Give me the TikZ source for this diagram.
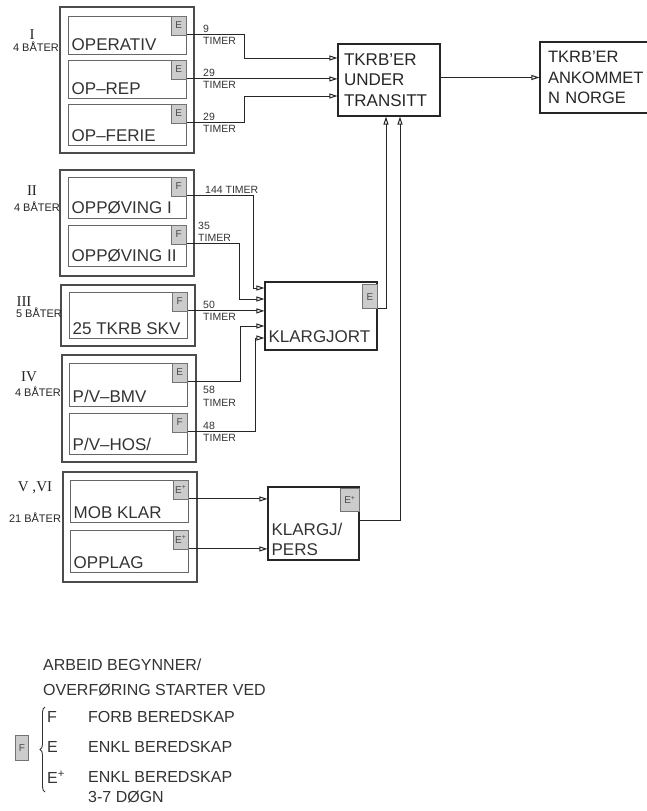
\documentclass[tikz,border=0pt]{standalone}
\usepackage{fontspec}
\setmainfont{Liberation Sans}
\newfontfamily\romfont{Liberation Serif}
\usetikzlibrary{arrows.meta, positioning, decorations.pathreplacing}

\begin{document}
\begin{tikzpicture}[x=1pt, y=-1pt,
        grp/.style={rectangle, draw=black!70, line width=1.6pt, minimum width=134pt,
                    minimum height=#1, inner sep=0pt},
        sub/.style={rectangle, draw=black!60, line width=1pt, minimum width=118pt,
                    minimum height=#1, inner sep=0pt},
        txt/.style={anchor=south west, inner sep=0pt, xshift=4pt, yshift=#1, align=left,
                    font=\fontsize{17}{20}\selectfont, text=black!80},
        txt/.default=4pt,
        tg/.style={rectangle, draw=black!55, fill=black!20, minimum width=15pt,
                   minimum height=19pt, inner sep=0pt, anchor=north east,
                   font=\fontsize{10}{10}\selectfont, text=black!70},
        box/.style={rectangle, draw=black!85, line width=1.2pt, inner sep=0pt,
                    font=\fontsize{17}{20.5}\selectfont, text=black!85},
        tim/.style={inner sep=0pt, align=left, font=\fontsize{10.5}{12.5}\selectfont, text=black!80},
        nr/.style={inner sep=0pt, font=\fontsize{11}{12}\selectfont, text=black!85},
        rom/.style={inner sep=0pt, font=\romfont\fontsize{15}{15}\selectfont, text=black!85},
        leg/.style={anchor=west, inner sep=0pt, font=\fontsize{16}{16}\selectfont, text=black!80},
        arr/.style={-{Triangle[open, length=8pt, width=5pt]}, line width=1pt, black!85},
        node distance=2pt]
      \useasboundingbox (0,0) rectangle (646,811);

      \node[grp=146pt] (g1) at (127,80) {};
      \node[sub=38pt, label={[txt]south west:OPERATIV}] (op) at (127,35) {};
      \node[tg] (top) at (op.north east) {E};
      \node[sub=38pt, label={[txt]south west:OP--REP}] (oprep) at (127,79) {};
      \node[tg] (toprep) at (oprep.north east) {E};
      \node[sub=41pt, label={[txt]south west:OP--FERIE}] (opfer) at (127,124.5) {};
      \node[tg] (topfer) at (opfer.north east) {E};
      \node[nr] (b1) at (36,47) {4 BÅTER};
      \node[rom, above=of b1, xshift=-4pt] (r1) {I};

      \node[grp=106pt] (g2) at (127,223) {};
      \node[sub=41pt, label={[txt]south west:OPPØVING I}] (ov1) at (127,197.5) {};
      \node[tg] (tov1) at (ov1.north east) {F};
      \node[sub=41pt, label={[txt]south west:OPPØVING II}] (ov2) at (127,245.5) {};
      \node[tg] (tov2) at (ov2.north east) {F};
      \node[nr] (b2) at (37,207) {4 BÅTER};
      \node[rom, above=6pt of b2, xshift=-5pt] (r2) {II};

      \node[grp=61pt] (g3) at (128,315.5) {};
      \node[sub=46pt, label={[txt]south west:25 TKRB SKV}] (skv) at (128,315) {};
      \node[tg] (tskv) at (skv.north east) {F};
      \node[nr] (b3) at (39,313) {5 BÅTER};
      \node[rom, above=1pt of b3, xshift=-15pt] (r3) {III};

      \node[grp=107pt] (g4) at (129,408.5) {};
      \node[sub=43pt, label={[txt]south west:P/V--BMV}] (bmv) at (128,384.5) {};
      \node[tg] (tbmv) at (bmv.north east) {E};
      \node[sub=41pt, label={[txt]south west:P/V--HOS/}] (hos) at (128,433.5) {};
      \node[tg] (thos) at (hos.north east) {F};
      \node[nr] (b4) at (38,392) {4 BÅTER};
      \node[rom, above=5pt of b4, xshift=-9pt] (r4) {IV};

      \node[grp=110pt] (g5) at (130,527) {};
      \node[sub=42pt, label={[txt]south west:MOB KLAR}] (mob) at (129,501) {};
      \node[tg] (tmob) at (mob.north east) {E\textsuperscript{+}};
      \node[sub=42pt, label={[txt]south west:OPPLAG}] (opl) at (129,551) {};
      \node[tg] (topl) at (opl.north east) {E\textsuperscript{+}};
      \node[nr] (b5) at (35,518) {21 BÅTER};
      \node[rom, above=19pt of b5] (r5) {V ,VI};

      \node[box, minimum width=102pt, minimum height=72pt, text width=90pt, align=left] (tr)
          at (389,80) {TKRB'ER\\UNDER\\TRANSITT};
      \node[box, minimum width=110pt, minimum height=71pt, text width=94pt, align=left,
            font=\fontsize{16.5}{20.5}\selectfont] (an)
          at (595,77.5) {TKRB'ER\\ANKOMMET\\N NORGE};
      \node[box, minimum width=112pt, minimum height=68pt,
            label={[txt=8pt]south west:KLARGJORT}] (kj) at (321,316) {};
      \node[tg, minimum height=24pt] (tkj) at ([yshift=-3pt]kj.north east) {E};
      \node[box, minimum width=91pt, minimum height=73pt,
            label={[txt=5pt]south west:KLARGJ/\\PERS}] (kp) at (313.5,523.5) {};
      \node[tg, minimum width=19pt, minimum height=23pt] (tkp) at ([yshift=-2pt]kp.north east) {E\textsuperscript{+}};

      \draw[arr] (top.south east) -- ++(58,0) |- ([yshift=22pt]tr.west);
      \draw[arr] (toprep.south east) -- (toprep.south east -| tr.west);
      \draw[arr] (topfer.south east) -- ++(58,0) |- ([yshift=-16pt]tr.west);
      \draw[arr] (an.west -| tr.east) -- (an.west);

      \draw[arr] (tov1.south east) -- ++(67,0) |- ([yshift=28pt]kj.west);
      \draw[arr] (tov2.south east) -- ++(53,0) |- ([yshift=17pt]kj.west);
      \draw[arr] (tskv.south east) -- (tskv.south east -| kj.west);
      \draw[arr] (tbmv.south east) -- ++(53,0) |- ([yshift=-10pt]kj.west);
      \draw[arr] (thos.south east) -- ++(68,0) |- ([yshift=-22pt]kj.west);
      \draw[arr] (tkj.south east) -| ([xshift=-3pt]tr.south);

      \draw[arr] (tmob.south east) -- (tmob.south east -| kp.west);
      \draw[arr] (topl.south east) -- (topl.south east -| kp.west);
      \draw[arr] ([yshift=3pt]kp.east) -| ([xshift=11pt]tr.south);

      \node[tim, anchor=west] (h1) at (203,35) {9\\TIMER};
      \node[tim, anchor=west] (h2) at (203,79) {29\\TIMER};
      \node[tim, anchor=west] (h3) at (203,123) {29\\TIMER};
      \node[tim, anchor=south west] (h4) at (205,194) {144 TIMER};
      \node[tim, anchor=south west] (h5) at (198,242) {35\\TIMER};
      \node[tim, anchor=west] (h6) at (203,311) {50\\TIMER};
      \node[tim, anchor=north west] (h7) at (203,386) {58\\TIMER};
      \node[tim, anchor=west] (h8) at (203,432) {48\\TIMER};

      \node[leg, align=left, font=\fontsize{16}{25}\selectfont] (hd) at (43,677.5)
          {ARBEID BEGYNNER/\\OVERFØRING STARTER VED};
      \node[tg, anchor=center, minimum width=13pt, minimum height=25pt] (lt) at (22,748) {F};
      \coordinate (bb) at (45,792);
      \coordinate (bt) at (45,707);
      \draw[decorate, decoration={brace, amplitude=5pt}, line width=0.9pt, black!80] (bb) -- (bt);
      \node[leg] (lf) at (47,717) {F};
      \node[leg] (le) at (47,747) {E};
      \node[leg] (lep) at (47,777) {E\textsuperscript{+}};
      \node[leg] (tf) at (88,717) {FORB BEREDSKAP};
      \node[leg] (te) at (88,747) {ENKL BEREDSKAP};
      \node[leg] (tep) at (88,777) {ENKL BEREDSKAP};
      \node[leg, below=8pt of tep.south west, anchor=north west] (td) {3-7 DØGN};
    \end{tikzpicture}
\end{document}
